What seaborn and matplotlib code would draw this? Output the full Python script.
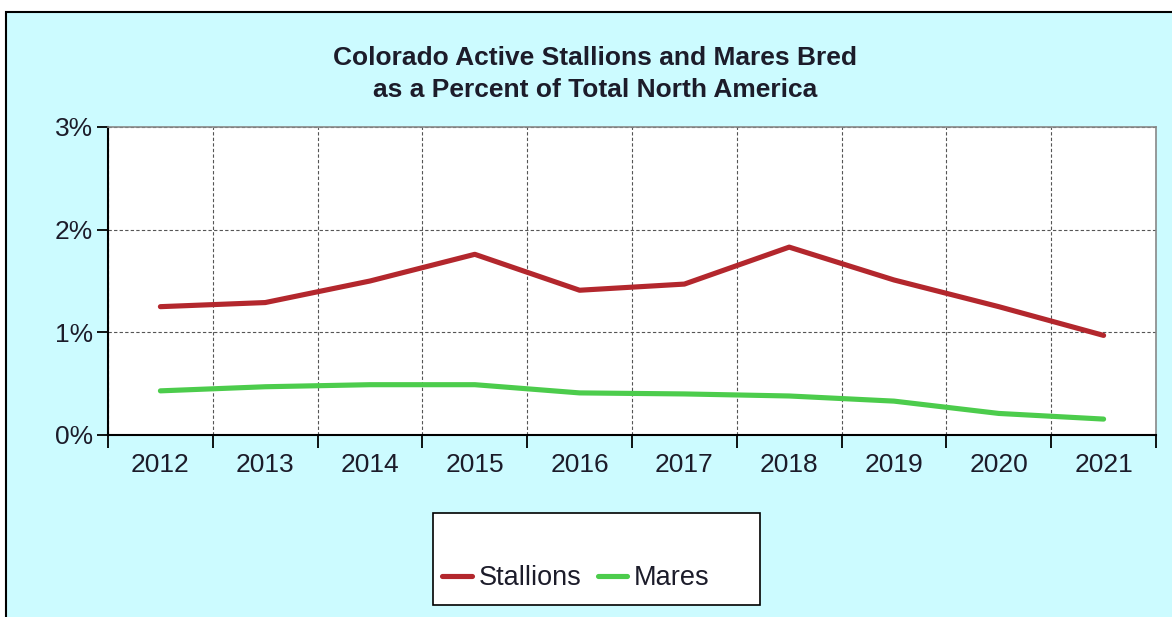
import pandas as pd
import matplotlib.pyplot as plt
import seaborn as sns
from matplotlib.patches import Rectangle
from matplotlib.ticker import PercentFormatter, FixedLocator

# Data (percent of total North America)
years = [2012, 2013, 2014, 2015, 2016, 2017, 2018, 2019, 2020, 2021]
stallions = [1.25, 1.29, 1.50, 1.76, 1.41, 1.47, 1.83, 1.51, 1.25, 0.97]
mares = [0.43, 0.47, 0.49, 0.49, 0.41, 0.40, 0.38, 0.33, 0.21, 0.155]
series_names = ["Stallions", "Mares"]
colors = {"Stallions": "#b3272d", "Mares": "#4ccc4c"}

df = pd.DataFrame({
    "Year": years * 2,
    "Percent": stallions + mares,
    "Series": [series_names[0]] * len(years) + [series_names[1]] * len(years),
})

sns.set_style("white")
plt.rcParams["font.family"] = ["Liberation Sans", "DejaVu Sans"]

W, H = 1172, 617
fig = plt.figure(figsize=(W / 100, H / 100), dpi=100, facecolor="white")

# cyan panel with black border (top/left visible)
fig.patches.append(Rectangle((6 / W, -0.05), 1.2, 1 - 12 / H + 0.05, transform=fig.transFigure,
                             facecolor="#ccfbff", edgecolor="black", lw=1.5, zorder=-10))

ax = fig.add_axes([108 / W, 1 - 435 / H, (1156 - 108) / W, (435 - 127) / H])
ax.set_zorder(2)
ax.set_facecolor("white")

sns.lineplot(data=df, x="Year", y="Percent", hue="Series", palette=colors,
             linewidth=3.7, ax=ax, legend=True)

ax.set_xlim(2011.5, 2021.5)
ax.set_ylim(0, 3)
ax.yaxis.set_major_locator(FixedLocator([0, 1, 2, 3]))
ax.yaxis.set_major_formatter(PercentFormatter(xmax=100, decimals=0))

# category boundaries as major ticks, year labels at the centers
ax.xaxis.set_major_locator(FixedLocator([y - 0.5 for y in years] + [years[-1] + 0.5]))
ax.xaxis.set_minor_locator(FixedLocator(years))
ax.set_xticklabels([], minor=False)
ax.set_xticklabels([str(y) for y in years], minor=True)
ax.tick_params(axis="x", which="major", direction="out", length=9.5, width=1.3, color="black", bottom=True)
ax.tick_params(axis="x", which="minor", length=0, pad=13, labelsize=19, labelcolor="#1c1c2a", bottom=True)
ax.tick_params(axis="y", which="major", direction="out", length=8, width=1.3, color="black",
               pad=3, labelsize=19, labelcolor="#1c1c2a", left=True)

ax.grid(True, which="major", color="#555555", linestyle=(0, (3, 2)), linewidth=0.8)
ax.set_axisbelow(True)
ax.set_xlabel("")
ax.set_ylabel("")

for side in ["left", "bottom"]:
    ax.spines[side].set_color("black")
    ax.spines[side].set_linewidth(1.5)
for side in ["top", "right"]:
    ax.spines[side].set_color("#888888")
    ax.spines[side].set_linewidth(1.2)

fig.text(595 / W, 1 - 58 / H, "Colorado Active Stallions and Mares Bred", ha="center", va="center",
         fontsize=19, fontweight="bold", color="#1c1c2a")
fig.text(595 / W, 1 - 90 / H, "as a Percent of Total North America", ha="center", va="center",
         fontsize=19, fontweight="bold", color="#1c1c2a")

# legend box
fig.patches.append(Rectangle((433 / W, 1 - 605 / H), (760 - 433) / W, (605 - 513) / H,
                             transform=fig.transFigure, facecolor="white", edgecolor="black",
                             lw=1.2, zorder=1))
handles, labels = ax.get_legend_handles_labels()
ax.get_legend().remove()
leg = fig.legend(handles, labels, loc="center left", bbox_to_anchor=(442 / W, 1 - 578 / H),
                 ncol=2, frameon=False, fontsize=19.5, handlelength=1.1, handletextpad=0.25,
                 columnspacing=0.6, borderpad=0, borderaxespad=0)
leg.set_zorder(5)
for t in leg.get_texts():
    t.set_color("#1c1c2a")

fig.savefig("out.png", dpi=100, facecolor=fig.get_facecolor())
